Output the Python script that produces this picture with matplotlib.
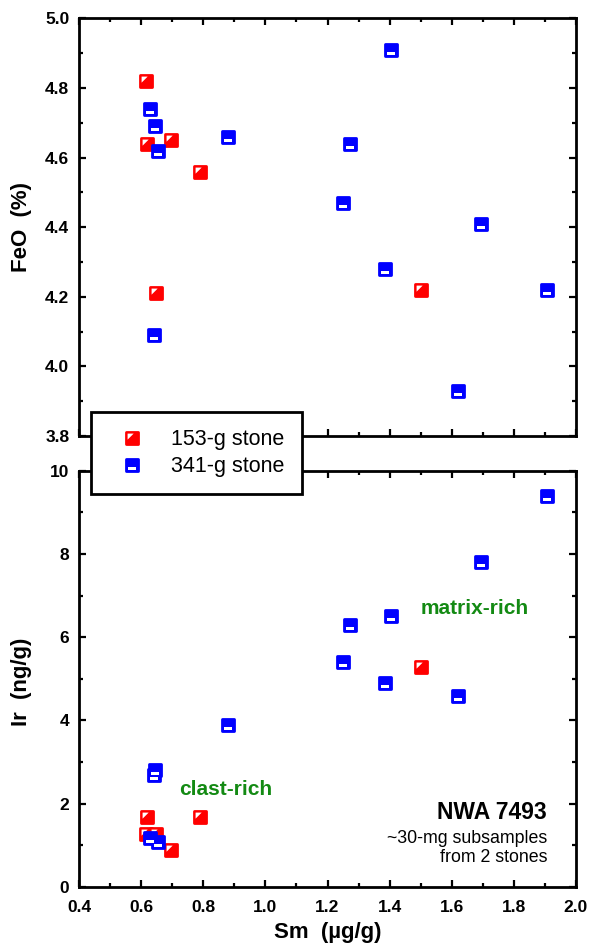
import matplotlib
matplotlib.use("Agg")
import matplotlib.pyplot as plt
from matplotlib.markers import MarkerStyle
from matplotlib.path import Path
from matplotlib.lines import Line2D
from matplotlib.legend_handler import HandlerTuple
from matplotlib.ticker import MultipleLocator, FormatStrFormatter

plt.rcParams['font.family'] = ['Liberation Sans', 'DejaVu Sans']

# ---------------- data ----------------
sm_153 = [0.615, 0.620, 0.695, 0.790, 0.648, 1.500]
feo_153 = [4.82, 4.64, 4.65, 4.56, 4.21, 4.22]
ir_153 = [1.28, 1.68, 0.89, 1.68, 1.28, 5.29]

sm_341 = [0.630, 0.646, 0.655, 0.643, 0.880, 1.250, 1.273, 1.385, 1.404, 1.621, 1.695, 1.908]
feo_341 = [4.74, 4.69, 4.62, 4.09, 4.66, 4.47, 4.64, 4.28, 4.91, 3.93, 4.41, 4.22]
ir_341 = [1.18, 2.80, 1.09, 2.69, 3.89, 5.40, 6.29, 4.89, 6.50, 4.59, 7.80, 9.40]

series_labels = ['153-g stone', '341-g stone']
x_label = 'Sm  (µg/g)'
y_labels = ['FeO  (%)', 'Ir  (ng/g)']

RED = '#ff0000'
BLUE = '#0000ff'
GREEN = '#138a13'

# ---------------- markers ----------------
sq = MarkerStyle('s', joinstyle='round')
MS, MEW = 8.4, 2.0
S = MS + MEW
tri_verts = [(-0.34, 0.34), (0.08, 0.34), (-0.34, -0.08), (-0.34, 0.34)]
tri = Path(tri_verts, [Path.MOVETO, Path.LINETO, Path.LINETO, Path.CLOSEPOLY])
tri_ms = S * 0.34 / 0.5
bar_verts = [(-0.30, -0.11), (0.30, -0.11), (0.30, -0.33), (-0.30, -0.33), (-0.30, -0.11)]
bar = Path(bar_verts, [Path.MOVETO, Path.LINETO, Path.LINETO, Path.LINETO, Path.CLOSEPOLY])
bar_ms = S * 0.33 / 0.5


def draw_red(ax, x, y):
    ax.plot(x, y, ls='none', marker=sq, ms=MS, mfc=RED, mec=RED, mew=MEW, zorder=3)
    ax.plot(x, y, ls='none', marker=tri, ms=tri_ms, mfc='white', mec='none', mew=0, zorder=3.1)


def draw_blue(ax, x, y):
    ax.plot(x, y, ls='none', marker=sq, ms=MS, mfc=BLUE, mec=BLUE, mew=MEW, zorder=3.2)
    ax.plot(x, y, ls='none', marker=bar, ms=bar_ms, mfc='white', mec='none', mew=0, zorder=3.3)


fig = plt.figure(figsize=(5.90, 9.46), dpi=100)
ax1 = fig.add_axes([79 / 590, 1 - 436 / 946, 497 / 590, (436 - 18.5) / 946])
ax2 = fig.add_axes([79 / 590, 1 - 887 / 946, 497 / 590, (887 - 470.7) / 946])

for ax in (ax1, ax2):
    for sp in ax.spines.values():
        sp.set_linewidth(2.0)
    ax.set_xlim(0.4, 2.0)
    ax.xaxis.set_major_locator(MultipleLocator(0.2))
    ax.xaxis.set_minor_locator(MultipleLocator(0.1))
    ax.xaxis.set_major_formatter(FormatStrFormatter('%.1f'))
    ax.tick_params(which='both', direction='in', top=True, right=True, width=1.6,
                   labelsize=12.5)
    ax.tick_params(which='major', length=5)
    ax.tick_params(which='minor', length=3)
    ax.tick_params(axis='x', pad=9)
    ax.tick_params(axis='y', pad=7)

ax1.set_ylim(3.8, 5.0)
ax1.yaxis.set_major_locator(MultipleLocator(0.2))
ax1.yaxis.set_minor_locator(MultipleLocator(0.1))
ax1.yaxis.set_major_formatter(FormatStrFormatter('%.1f'))
ax1.tick_params(axis='x', labelbottom=False)

ax2.set_ylim(0, 10)
ax2.yaxis.set_major_locator(MultipleLocator(2))
ax2.yaxis.set_minor_locator(MultipleLocator(1))

for ax in (ax1, ax2):
    for lab in ax.get_xticklabels() + ax.get_yticklabels():
        lab.set_fontweight('bold')

draw_red(ax1, sm_153, feo_153)
draw_blue(ax1, sm_341, feo_341)
draw_red(ax2, sm_153, ir_153)
draw_blue(ax2, sm_341, ir_341)

# labels
fig.text(22 / 590, 1 - 227 / 946, y_labels[0], rotation=90, ha='center', va='center',
         fontsize=16, fontweight='bold')
fig.text(22 / 590, 1 - 682 / 946, y_labels[1], rotation=90, ha='center', va='center',
         fontsize=16, fontweight='bold')
fig.text(327.5 / 590, 1 - 932 / 946, x_label, ha='center', va='center',
         fontsize=16, fontweight='bold')

# annotations
ax2.text(0.201, 0.235, 'clast-rich', transform=ax2.transAxes, ha='left', va='center',
         fontsize=15, fontweight='bold', color=GREEN)
ax2.text(0.687, 0.668, 'matrix-rich', transform=ax2.transAxes, ha='left', va='center',
         fontsize=15, fontweight='bold', color=GREEN)
ax2.text(0.942, 0.180, 'NWA 7493', transform=ax2.transAxes, ha='right', va='center',
         fontsize=16.5, fontweight='bold')
ax2.text(0.942, 0.1177, '~30-mg subsamples', transform=ax2.transAxes,
         ha='right', va='center', fontsize=12.8)
ax2.text(0.942, 0.072, 'from 2 stones', transform=ax2.transAxes,
         ha='right', va='center', fontsize=12.8)

# legend
h_red = (Line2D([], [], ls='none', marker=sq, ms=MS, mfc=RED, mec=RED, mew=MEW),
         Line2D([], [], ls='none', marker=tri, ms=tri_ms, mfc='white', mec='none', mew=0))
h_blue = (Line2D([], [], ls='none', marker=sq, ms=MS, mfc=BLUE, mec=BLUE, mew=MEW),
          Line2D([], [], ls='none', marker=bar, ms=bar_ms, mfc='white', mec='none', mew=0))
leg = fig.legend([h_red, h_blue], series_labels, loc='upper left',
                 bbox_to_anchor=(91 / 590, 1 - 412 / 946), bbox_transform=fig.transFigure,
                 handler_map={tuple: HandlerTuple(ndivide=1)},
                 fontsize=15.5, frameon=True, fancybox=False, framealpha=1,
                 edgecolor='black', borderpad=0.8, labelspacing=0.28,
                 handlelength=2.2, handletextpad=0.72, borderaxespad=0,
                 markerscale=1.0)
leg.get_frame().set_linewidth(2.0)
leg.set_zorder(10)

fig.savefig('out.png', dpi=100)
